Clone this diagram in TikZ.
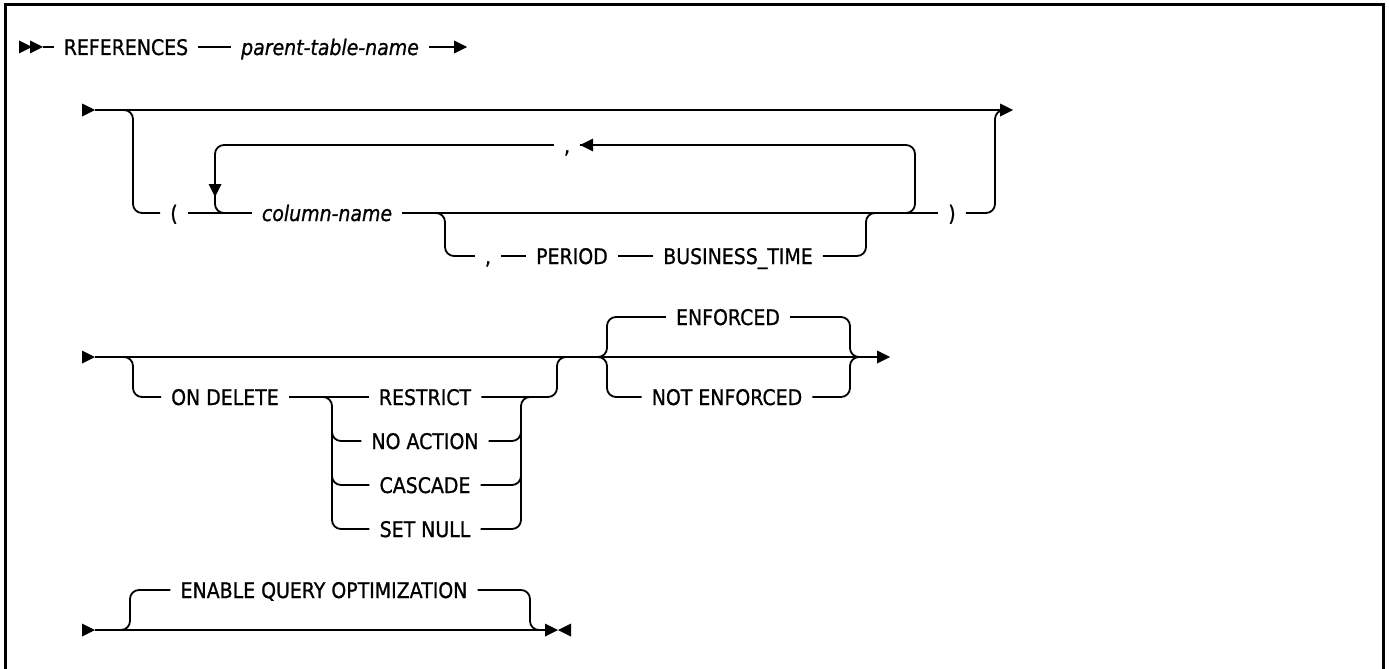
\documentclass[tikz,border=0pt]{standalone}
\usepackage{fontspec}
\setmainfont{DejaVu Sans}[FakeStretch=0.88, FakeBold=0.9]
\usetikzlibrary{calc}
\tikzset{
  rail/.style={line width=1.8pt, rounded corners=9pt},
  kw/.style={inner xsep=10pt, inner ysep=0pt, text height=16pt, text depth=0pt,
    font=\fontsize{21.5}{25}\selectfont},
  var/.style={kw, font=\fontsize{21.5}{25}\selectfont\itshape},
  frame/.style={line width=3pt}
}
% filled triangles, tip at the given point
\newcommand{\tipright}[1]{\fill (#1) ++(-13,-6.5) -- ++(13,6.5) -- ++(-13,6.5) -- cycle;}
\newcommand{\tipleft}[1]{\fill (#1) ++(13,-6.5) -- ++(-13,6.5) -- ++(13,6.5) -- cycle;}
\newcommand{\tipdown}[1]{\fill (#1) ++(-6.5,-13) -- ++(6.5,13) -- ++(6.5,-13) -- cycle;}

\begin{document}
\begin{tikzpicture}[x=1pt, y=-1pt]
  \useasboundingbox (0,0) rectangle (1389,669);
  % frame, open at the bottom
  \draw[frame] (5,669) -- (5,5) -- (1383,5) -- (1383,669);

  % row 1
  \node[kw] (refkw) at (126,47) {REFERENCES};
  \node[var] (parent) at (330,47) {parent-table-name};
  \coordinate (r1a) at (32,47);
  \coordinate (r1b) at (43,47);
  \coordinate (r1e) at (467,47);
  \tipright{r1a} \tipright{r1b}
  \draw[rail] (r1b) -- (refkw);
  \draw[rail] (refkw) -- (parent);
  \draw[rail] (parent) -- ([xshift=-12pt]r1e);
  \tipright{r1e}

  % row 2
  \coordinate (r2s) at (95,110);
  \coordinate (r2e) at (1013,110);
  \tipright{r2s}
  \draw[rail] (r2s) -- ([xshift=-12pt]r2e);
  \tipright{r2e}
  \node[kw] (lparen) at (174,213) {(};
  \node[var] (colname) at (327,213) {column-name};
  \node[kw] (rparen) at (952,213) {)};
  \node[kw] (loopsep) at (567,145) {,};
  \node[kw] (bsep) at (488,256) {,};
  \node[kw] (period) at (572,256) {PERIOD};
  \node[kw] (btime) at (738,256) {BUSINESS\_TIME};
  \draw[rail] (121,110) -- (133,110) -- (133,213) -- (lparen);
  \draw[rail] (lparen) -- (colname);
  \draw[rail] (colname) -- (rparen);
  % repeat loop
  \draw[rail] (902,213) -- (915,213) -- (915,145) -- (loopsep);
  \tipleft{loopsep.east}
  \draw[rail] (loopsep) -- (215,145) -- (215,213) -- (230,213);
  \tipdown{215,197}
  % period branch
  \draw[rail] (433,213) -- (445,213) -- (445,256) -- (bsep);
  \draw[rail] (bsep) -- (period);
  \draw[rail] (period) -- (btime);
  \draw[rail] (btime) -- (866,256) -- (866,213) -- (878,213);
  \draw[rail] (rparen) -- (995,213) -- (995,110) -- (1007,110);

  % row 3
  \coordinate (r3s) at (95,357);
  \coordinate (r3e) at (890,357);
  \tipright{r3s}
  \draw[rail] (r3s) -- ([xshift=-12pt]r3e);
  \tipright{r3e}
  \node[kw] (ondel) at (225,397) {ON DELETE};
  \node[kw] (restrict) at (425,397) {RESTRICT};
  \node[kw] (noaction) at (425,441) {NO ACTION};
  \node[kw] (cascade) at (425,485) {CASCADE};
  \node[kw] (setnull) at (425,529) {SET NULL};
  \node[kw] (enf) at (728,317) {ENFORCED};
  \node[kw] (notenf) at (727,397) {NOT ENFORCED};
  \draw[rail] (121,357) -- (133,357) -- (133,397) -- (ondel);
  \draw[rail] (ondel) -- (restrict);
  \draw[rail] (320,397) -- (332,397) -- (332,529) -- (setnull);
  \draw[rail] (setnull) -- (521,529) -- (521,397) -- (533,397);
  \foreach \n in {noaction, cascade} {
    \draw[rail] (332,420) |- (\n);
    \draw[rail] (\n) -| (521,420);
  }
  \draw[rail] (restrict) -- (557,397) -- (557,357) -- (569,357);
  % enforced choice
  \draw[rail] (595,357) -- (607,357) -- (607,317) -- (enf);
  \draw[rail] (595,357) -- (607,357) -- (607,397) -- (notenf);
  \draw[rail] (enf) -- (850,317) -- (850,357) -- (862,357);
  \draw[rail] (notenf) -- (850,397) -- (850,357) -- (862,357);

  % row 4
  \coordinate (r4s) at (95,630);
  \coordinate (r4e) at (558,630);
  \tipright{r4s}
  \draw[rail] (r4s) -- ([xshift=-12pt]r4e);
  \tipright{r4e} \tipleft{r4e}
  \node[kw] (enable) at (324,590) {ENABLE QUERY OPTIMIZATION};
  \draw[rail] (118,630) -- (130,630) -- (130,590) -- (enable);
  \draw[rail] (enable) -- (530,590) -- (530,630) -- (542,630);
\end{tikzpicture}
\end{document}
